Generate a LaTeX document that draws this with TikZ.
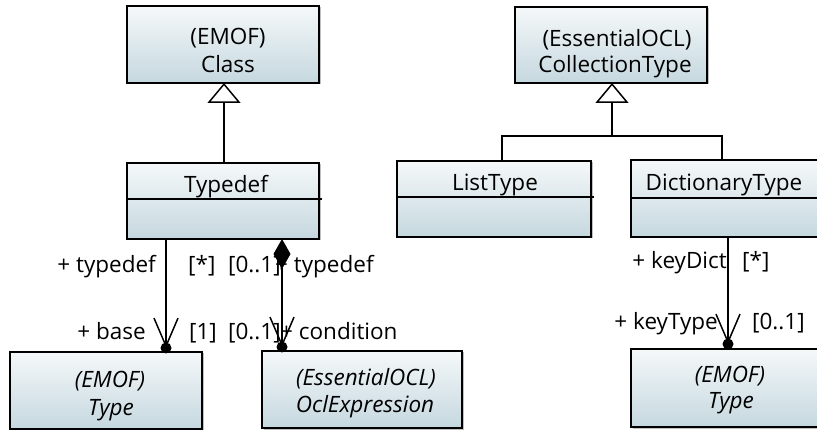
\documentclass[tikz,border=0pt]{standalone}
\usepackage{fontspec}
\setmainfont{Open Sans}
\usetikzlibrary{arrows.meta,shadows}
\definecolor{boxtop}{HTML}{F5F8F9}
\definecolor{boxbot}{HTML}{C5D8DF}
\begin{document}
\begin{tikzpicture}[x=1pt,y=-1pt,
  umlbox/.style={draw=black,line width=1.5pt,top color=boxtop,bottom color=boxbot,anchor=north west,inner sep=0pt,outer sep=0pt,
    drop shadow={shadow xshift=1.5pt,shadow yshift=-1.5pt,fill=black!25,opacity=1}},
  txt/.style={font=\fontsize{22.5}{27}\selectfont,inner sep=0pt,anchor=base},
  itxt/.style={font=\fontsize{22.5}{27}\selectfont\itshape,inner sep=0pt,anchor=base},
  conn/.style={line width=1.5pt},
  dotn/.style={circle,fill=black,inner sep=0pt,minimum size=11pt},
  nav/.style={-{Straight Barb[length=28pt,width=24pt]}},
  gen/.style={-{Triangle[open,length=20pt,width=33pt,fill=white]}}
]
\useasboundingbox (0,0) rectangle (817,430);
% boxes
\node[umlbox,minimum width=192pt,minimum height=77pt] (cls) at (127,6) {};
\node[umlbox,minimum width=192pt,minimum height=76pt] (tdf) at (127,163) {};
\node[umlbox,minimum width=192pt,minimum height=77pt] (typeL) at (10,352) {};
\node[umlbox,minimum width=200pt,minimum height=77pt] (ocl) at (262,351) {};
\node[umlbox,minimum width=192pt,minimum height=76pt] (coll) at (515,7) {};
\node[umlbox,minimum width=194pt,minimum height=76pt] (lst) at (397,161) {};
\node[umlbox,minimum width=194pt,minimum height=77pt] (dict) at (631,160) {};
\node[umlbox,minimum width=194pt,minimum height=78pt] (typeR) at (631,349) {};
% compartment dividers
\draw[conn] (128,199) -- (322,199);
\draw[conn] (398,197) -- (594,197);
\draw[conn] (632,198) -- (830,198);
% box texts
\node[txt] (clsA) at (228,45) {(EMOF)};
\node[txt] (clsB) at (228,73) {Class};
\node[txt] (collA) at (617,47) {(EssentialOCL)};
\node[txt] (collB) at (615,73) {CollectionType};
\node[txt] (tdfT) at (226,193) {Typedef};
\node[txt] (lstT) at (495,191) {ListType};
\node[txt] (dictT) at (724,191) {DictionaryType};
\node[itxt] (typeLA) at (110,388) {(EMOF)};
\node[itxt] (typeLB) at (111,415) {Type};
\node[itxt] (oclA) at (366,385) {(EssentialOCL)};
\node[itxt] (oclB) at (365,412) {OclExpression};
\node[itxt] (typeRA) at (730,382) {(EMOF)};
\node[itxt] (typeRB) at (731,408) {Type};
% end dots
\node[dotn] (d1) at (166,348) {};
\node[dotn] (d2) at (282,347) {};
\node[dotn] (d3) at (728,344) {};
% connector coordinates
\coordinate (g1) at (224,0);
\coordinate (j) at (612,136);
\coordinate (jl) at (502,0);
\coordinate (jr) at (722,0);
% generalizations
\draw[conn,gen] (tdf.north -| g1) -- (cls.south -| g1);
\draw[conn] (lst.north -| jl) |- (j) -| (dict.north -| jr);
\draw[conn,gen] (j) -- (coll.south -| j);
% associations
\draw[conn,nav] (tdf.south -| d1) -- (d1.center);
\draw[conn,{Diamond[length=30pt,width=17pt]}-{Straight Barb[length=28pt,width=24pt]}] (tdf.south -| d2) -- (d2.center);
\draw[conn,nav] (dict.south -| d3) -- (d3.center);
% role labels
\node[txt,anchor=base east] (l1) at (156,273) {+ typedef};
\node[txt,anchor=base west] (l2) at (188,273) {[*]};
\node[txt,anchor=base west] (l3) at (228,273) {[0..1]};
\node[txt,anchor=base west] (l4) at (275,273) {+ typedef};
\node[txt,anchor=base east] (l5) at (146,340) {+ base};
\node[txt,anchor=base west] (l6) at (189,340) {[1]};
\node[txt,anchor=base west] (l7) at (228,340) {[0..1]};
\node[txt,anchor=base west] (l8) at (280,340) {+ condition};
\node[txt,anchor=base east] (l9) at (727,269) {+ keyDict};
\node[txt,anchor=base west] (l10) at (742,269) {[*]};
\node[txt,anchor=base east] (l11) at (718,330) {+ keyType};
\node[txt,anchor=base west] (l12) at (752,330) {[0..1]};
\end{tikzpicture}
\end{document}
